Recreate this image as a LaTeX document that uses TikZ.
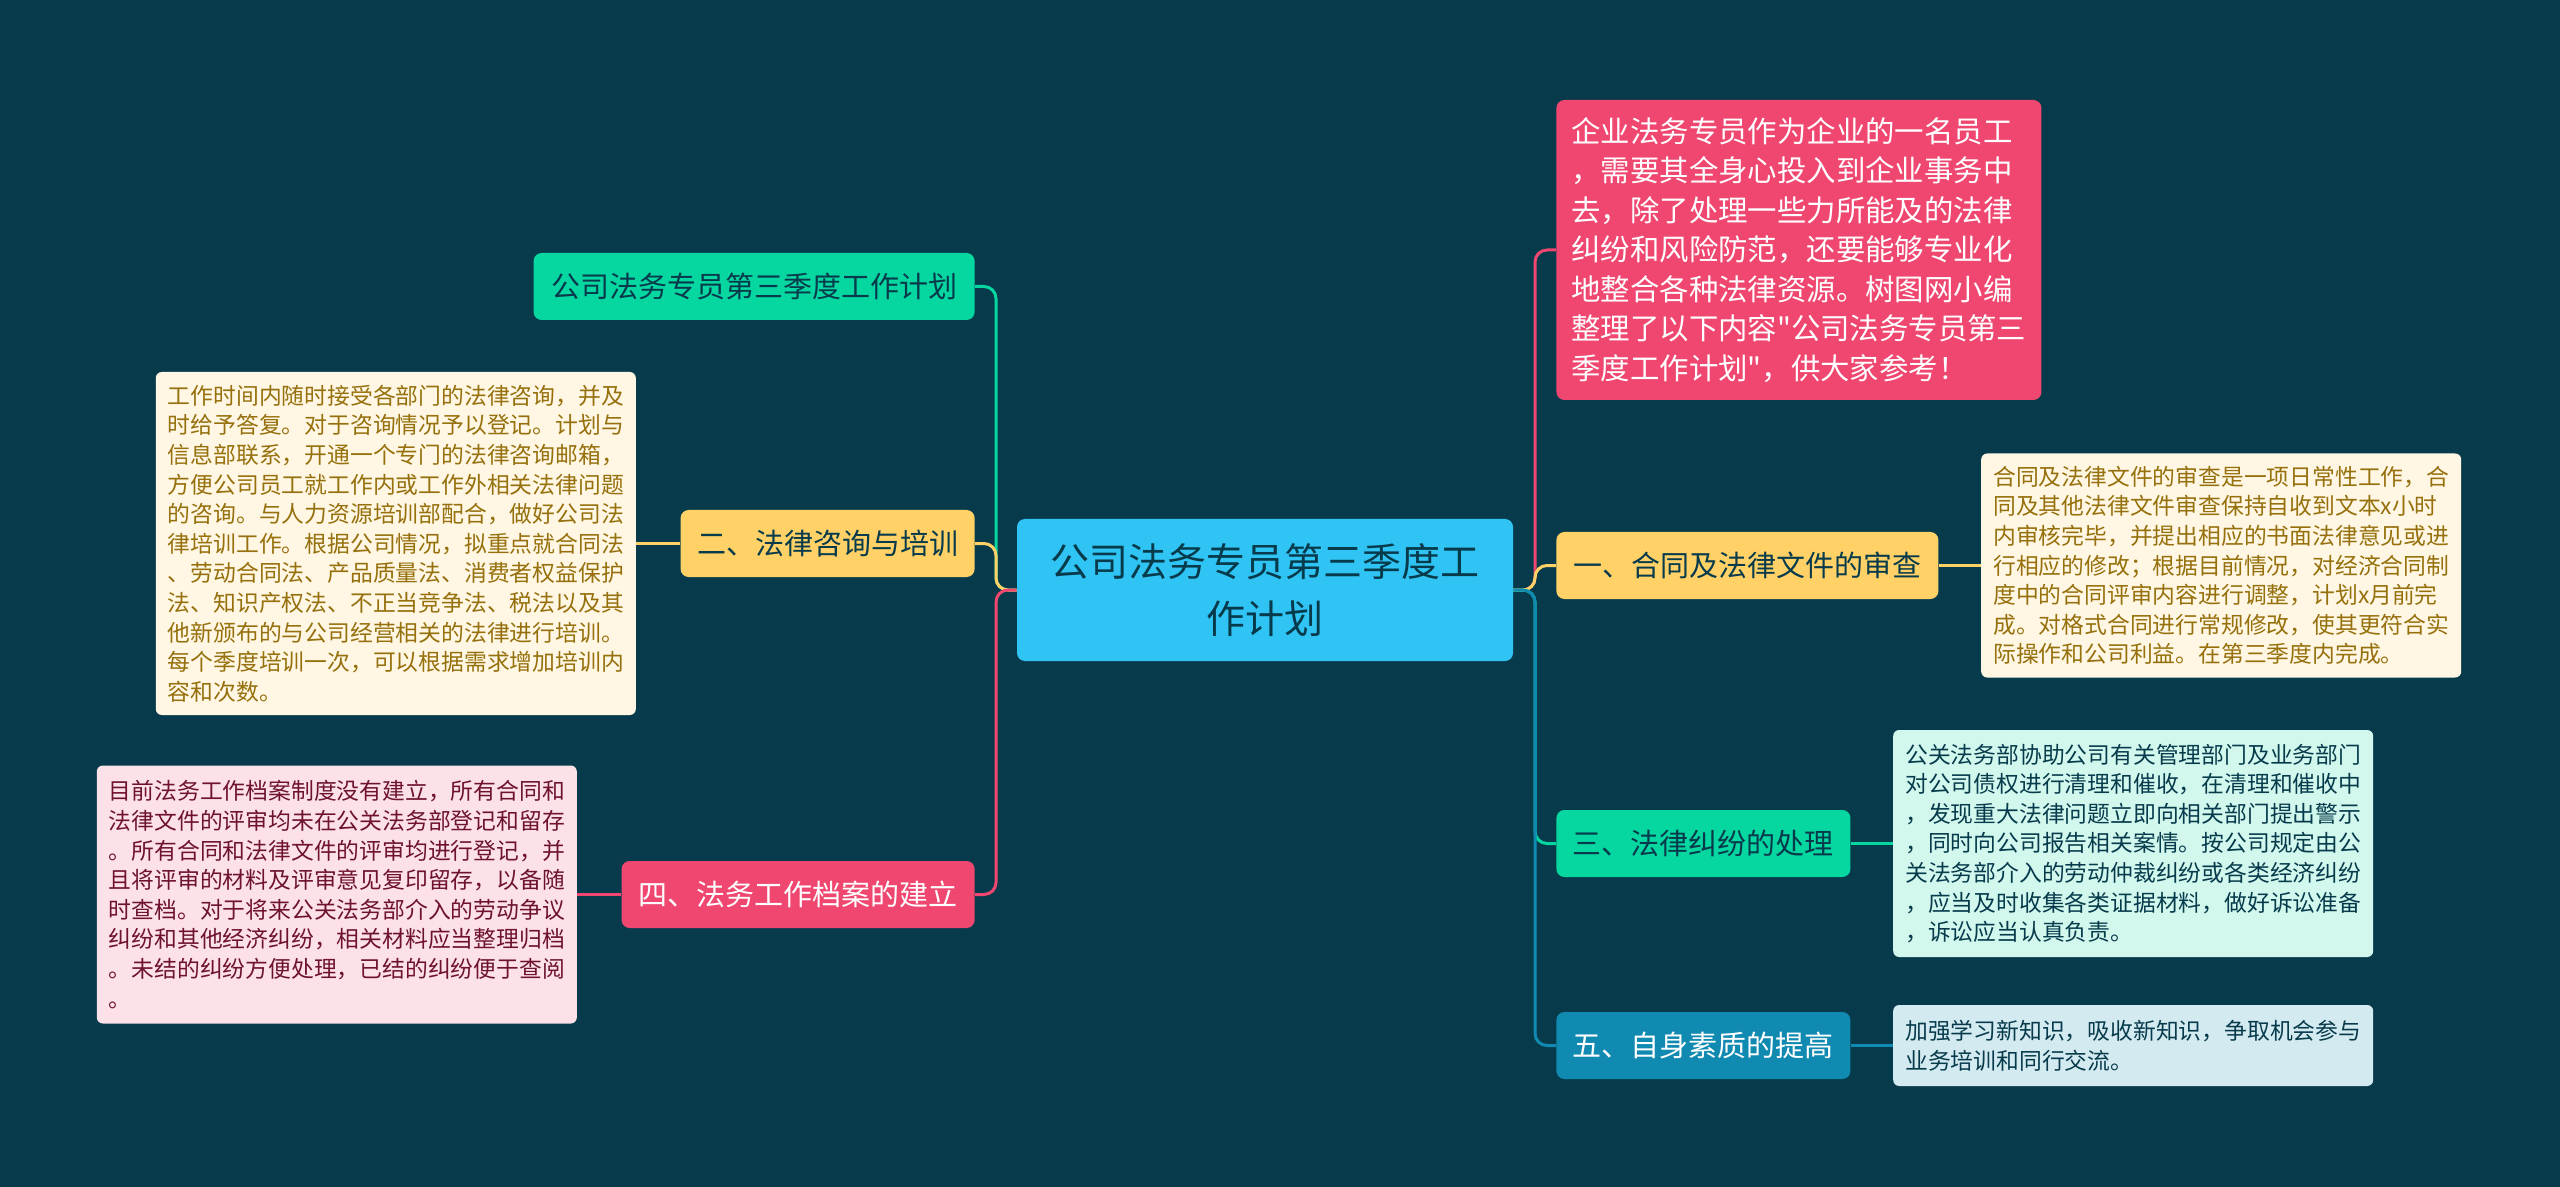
\documentclass[tikz,border=0pt]{standalone}
\usepackage{fontspec}
\setmainfont{Noto Sans CJK SC}[Ligatures=TeXOff]
\usepackage{tikz}
\usetikzlibrary{positioning}
\usepackage{xcolor}
\definecolor{bg}{HTML}{073B4C}
\definecolor{sky}{HTML}{30C4F4}
\definecolor{mint}{HTML}{06D6A0}
\definecolor{sun}{HTML}{FFD166}
\definecolor{rose}{HTML}{EF476F}
\definecolor{ocean}{HTML}{118AB2}
\definecolor{suntext}{HTML}{96700C}
\definecolor{rosetext}{HTML}{6E1230}

\begin{document}
\begin{tikzpicture}[
    x=0.5pt, y=-0.5pt,
    box/.style={rounded corners=4pt, inner sep=0pt, align=center},
    root/.style={box, fill=sky, text=bg, minimum width=248pt, minimum height=71pt, font=\fontsize{19.5}{28.5}\selectfont},
    topic/.style={box, minimum height=33.5pt, font=\fontsize{14.5}{17}\selectfont},
    note/.style={rounded corners=3pt, inner xsep=6pt, inner ysep=0pt, align=left, minimum width=240pt, font=\fontsize{11.4}{14.8}\selectfont},
    link/.style={line width=1.5pt, rounded corners=6pt},
]
% Background
\fill[bg] (0,0) rectangle (2560,1187);

% Root
\node[root] (root) at (1265,590) {公司法务专员第三季度工\\作计划};
\coordinate (lj) at (996,590);
\coordinate (rj) at (1535,590);

% Left branch
\node[topic, fill=mint, text=bg, anchor=east, minimum width=220.5pt] (t0) at (975,286.5) {公司法务专员第三季度工作计划};
\node[topic, fill=sun, text=bg, anchor=east, minimum width=147pt] (b2) at (975,543.5) {二、法律咨询与培训};
\node[topic, fill=rose, text=white, anchor=east, minimum width=176.5pt] (b4) at (975,894.5) {四、法务工作档案的建立};

\node[note, fill=sun!18!white, text=suntext, minimum height=171.5pt, left=22pt of b2] (d2) {工作时间内随时接受各部门的法律咨询，并及\\时给予答复。对于咨询情况予以登记。计划与\\信息部联系，开通一个专门的法律咨询邮箱，\\方便公司员工就工作内或工作外相关法律问题\\的咨询。与人力资源培训部配合，做好公司法\\律培训工作。根据公司情况，拟重点就合同法\\、劳动合同法、产品质量法、消费者权益保护\\法、知识产权法、不正当竞争法、税法以及其\\他新颁布的与公司经营相关的法律进行培训。\\每个季度培训一次，可以根据需求增加培训内\\容和次数。};
\node[note, fill=rose!16!white, text=rosetext, minimum height=129pt, left=22pt of b4] (d4) {目前法务工作档案制度没有建立，所有合同和\\法律文件的评审均未在公关法务部登记和留存\\。所有合同和法律文件的评审均进行登记，并\\且将评审的材料及评审意见复印留存，以备随\\时查档。对于将来公关法务部介入的劳动争议\\纠纷和其他经济纠纷，相关材料应当整理归档\\。未结的纠纷方便处理，已结的纠纷便于查阅\\。};

% Right branch
\node[box, fill=rose, text=white, anchor=west, align=left, inner xsep=7.5pt, minimum width=242.5pt, minimum height=150pt, font=\fontsize{14.7}{19.75}\selectfont] (intro) at (1556,250) {企业法务专员作为企业的一名员工\\，需要其全身心投入到企业事务中\\去，除了处理一些力所能及的法律\\纠纷和风险防范，还要能够专业化\\地整合各种法律资源。树图网小编\\整理了以下内容"公司法务专员第三\\季度工作计划"，供大家参考！};
\node[topic, fill=sun, text=bg, anchor=west, minimum width=191pt] (b1) at (1556,565.5) {一、合同及法律文件的审查};
\node[topic, fill=mint, text=bg, anchor=west, minimum width=147pt] (b3) at (1556,843.5) {三、法律纠纷的处理};
\node[topic, fill=ocean, text=white, anchor=west, minimum width=147pt] (b5) at (1556,1045.5) {五、自身素质的提高};

\node[note, fill=sun!18!white, text=suntext, minimum height=112pt, right=21pt of b1] (d1) {合同及法律文件的审查是一项日常性工作，合\\同及其他法律文件审查保持自收到文本x小时\\内审核完毕，并提出相应的书面法律意见或进\\行相应的修改；根据目前情况，对经济合同制\\度中的合同评审内容进行调整，计划x月前完\\成。对格式合同进行常规修改，使其更符合实\\际操作和公司利益。在第三季度内完成。};
\node[note, fill=mint!18!white, text=bg, minimum height=113.5pt, right=21pt of b3] (d3) {公关法务部协助公司有关管理部门及业务部门\\对公司债权进行清理和催收，在清理和催收中\\，发现重大法律问题立即向相关部门提出警示\\，同时向公司报告相关案情。按公司规定由公\\关法务部介入的劳动仲裁纠纷或各类经济纠纷\\，应当及时收集各类证据材料，做好诉讼准备\\，诉讼应当认真负责。};
\node[note, fill=ocean!18!white, text=bg, minimum height=40.5pt, right=21pt of b5] (d5) {加强学习新知识，吸收新知识，争取机会参与\\业务培训和同行交流。};

% Links
\draw[link, mint] (root.west) -- (lj) |- (t0.east);
\draw[link, sun] (root.west) -- (lj) |- (b2.east);
\draw[link, rose] (root.west) -- (lj) |- (b4.east);
\draw[link, sun] (b2.west) -- (d2.east);
\draw[link, rose] (b4.west) -- (d4.east);

\draw[link, rose] (root.east) -- (rj) |- (intro.west);
\draw[link, sun] (root.east) -- (rj) |- (b1.west);
\draw[link, mint] (root.east) -- (rj) |- (b3.west);
\draw[link, ocean] (root.east) -- (rj) |- (b5.west);
\draw[link, sun] (b1.east) -- (d1.west);
\draw[link, mint] (b3.east) -- (d3.west);
\draw[link, ocean] (b5.east) -- (d5.west);
\end{tikzpicture}
\end{document}
